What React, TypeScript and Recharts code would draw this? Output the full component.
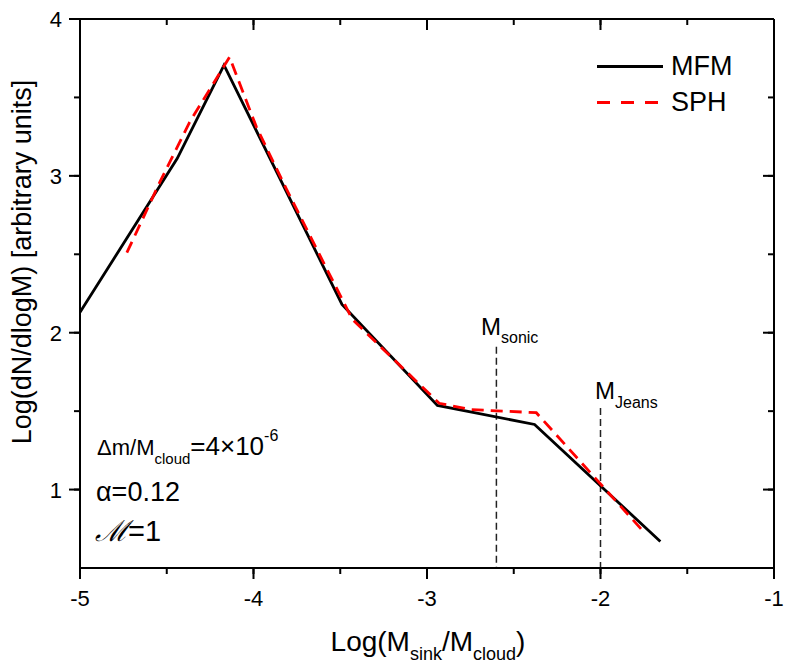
import { LineChart, Line, XAxis, YAxis } from "recharts";

const X_TICKS = [-5, -4.5, -4, -3.5, -3, -2.5, -2, -1.5, -1];
const Y_TICKS = [1, 1.5, 2, 2.5, 3, 3.5, 4];

// MFM (black solid)
const mfmX = [-5, -4.44, -4.17, -3.49, -2.94, -2.38, -1.655];
const mfmY = [2.13, 3.11, 3.706, 2.18, 1.537, 1.415, 0.669];

// SPH (red dashed)
const sphX = [-4.73, -4.54, -4.368, -4.138, -3.983, -3.81, -3.431, -2.93, -2.75, -2.37, -1.753];
const sphY = [2.51, 2.96, 3.343, 3.757, 3.311, 2.915, 2.086, 1.55, 1.51, 1.49, 0.733];

// vertical markers: x position, top of the dashed line
const M_SONIC_X = -2.6;
const M_SONIC_TOP = 1.91;
const M_JEANS_X = -2.0;
const M_JEANS_TOP = 1.52;
const Y_MIN = 0.5;

const mfm = mfmX.map((x, i) => ({ x, y: mfmY[i] }));
const sph = sphX.map((x, i) => ({ x, y: sphY[i] }));
const sonic = [
  { x: M_SONIC_X, y: M_SONIC_TOP },
  { x: M_SONIC_X, y: Y_MIN },
];
const jeans = [
  { x: M_JEANS_X, y: M_JEANS_TOP },
  { x: M_JEANS_X, y: Y_MIN },
];

const FONT = "'Liberation Sans', Arial, Helvetica, sans-serif";
const BASE = 0.8465; // baseline offset of Liberation Sans at line-height 1
const TICK = { stroke: "#000", strokeWidth: 2 };
const MINOR = 6; // built-in tick length; majors get extended to 11

function isMajor(v: number) {
  return Math.abs(v - Math.round(v)) < 1e-6;
}

// built-in tick lines give the short marks, these add the longer major part and labels
function BottomTick(props: any) {
  const { x, y, payload } = props;
  if (!isMajor(payload.value)) return <g />;
  return (
    <g>
      <path d={`M${x},${y - MINOR}V${y + 5}`} stroke="#000" strokeWidth={2} fill="none" />
      <text x={x} y={y + 32} textAnchor="middle" fontSize={22} fontFamily={FONT} fill="#000">
        {payload.value}
      </text>
    </g>
  );
}

function LeftTick(props: any) {
  const { x, y, payload } = props;
  if (!isMajor(payload.value)) return <g />;
  return (
    <g>
      <path d={`M${x + MINOR},${y}H${x - 5}`} stroke="#000" strokeWidth={2} fill="none" />
      <text x={x - 12} y={y + 8} textAnchor="end" fontSize={22} fontFamily={FONT} fill="#000">
        {payload.value}
      </text>
    </g>
  );
}

function TopTick(props: any) {
  const { x, y, payload } = props;
  if (!isMajor(payload.value)) return <g />;
  return <path d={`M${x},${y - MINOR}V${y + 5}`} stroke="#000" strokeWidth={2} fill="none" />;
}

function RightTick(props: any) {
  const { x, y, payload } = props;
  if (!isMajor(payload.value)) return <g />;
  return <path d={`M${x + MINOR},${y}H${x - 5}`} stroke="#000" strokeWidth={2} fill="none" />;
}

// html text placed by its baseline
function Txt({ x, y, size, center, children }: any) {
  return (
    <div
      style={{
        position: "absolute",
        left: x,
        top: y - BASE * size,
        fontSize: size,
        lineHeight: 1,
        fontFamily: FONT,
        whiteSpace: "nowrap",
        color: "#000",
        transform: center ? "translateX(-50%)" : undefined,
      }}
    >
      {children}
    </div>
  );
}

function Sub({ size, dy, children }: any) {
  return <span style={{ fontSize: size, position: "relative", top: dy }}>{children}</span>;
}

export default function App() {
  return (
    <div style={{ position: "absolute", left: 0, top: 0, width: 789, height: 667, background: "#fff" }}>
      <LineChart width={789} height={667} margin={{ top: 19, right: 15, bottom: 0, left: 0 }}>
        <XAxis xAxisId="bottom" type="number" dataKey="x" domain={[-5, -1]} ticks={X_TICKS} interval={0} height={99}
          tickSize={MINOR} tickMargin={0} tickLine={TICK} axisLine={{ stroke: "#000", strokeWidth: 2 }} tick={<BottomTick />} />
        <XAxis xAxisId="top" orientation="top" mirror type="number" dataKey="x" domain={[-5, -1]} ticks={X_TICKS} interval={0}
          height={1} tickSize={MINOR} tickMargin={0} tickLine={TICK} axisLine={{ stroke: "#000", strokeWidth: 2 }} tick={<TopTick />} />
        <YAxis yAxisId="left" type="number" domain={[0.5, 4]} ticks={Y_TICKS} interval={0} width={80}
          tickSize={MINOR} tickMargin={0} tickLine={TICK} axisLine={{ stroke: "#000", strokeWidth: 2 }} tick={<LeftTick />} />
        <YAxis yAxisId="right" orientation="right" mirror type="number" domain={[0.5, 4]} ticks={Y_TICKS} interval={0}
          width={1} tickSize={MINOR} tickMargin={0} tickLine={TICK} axisLine={{ stroke: "#000", strokeWidth: 2 }} tick={<RightTick />} />
        <Line xAxisId="bottom" yAxisId="left" data={sonic} dataKey="y" type="linear" stroke="#222" strokeWidth={1.5}
          strokeDasharray="7 4" dot={false} activeDot={false} isAnimationActive={false} />
        <Line xAxisId="bottom" yAxisId="left" data={jeans} dataKey="y" type="linear" stroke="#222" strokeWidth={1.5}
          strokeDasharray="7 4" dot={false} activeDot={false} isAnimationActive={false} />
        <Line xAxisId="bottom" yAxisId="left" data={mfm} dataKey="y" type="linear" stroke="#000" strokeWidth={2.8}
          strokeLinejoin="miter" dot={false} activeDot={false} isAnimationActive={false} />
        {/* same domains as bottom/left, bound to top/right so those axes get ticks */}
        <Line xAxisId="top" yAxisId="right" data={sph} dataKey="y" type="linear" stroke="#ff0000" strokeWidth={2.8}
          strokeDasharray="12 7" strokeLinejoin="miter" dot={false} activeDot={false} isAnimationActive={false} />
      </LineChart>

      {/* legend */}
      <div style={{ position: "absolute", left: 597, top: 65, width: 66, height: 3, background: "#000" }} />
      <Txt x={671} y={76} size={27}>MFM</Txt>
      <div
        style={{
          position: "absolute",
          left: 597,
          top: 101,
          width: 66,
          height: 3,
          background: "repeating-linear-gradient(90deg, #ff0000 0px, #ff0000 13px, #ffffff 13px, #ffffff 24px)",
        }}
      />
      <Txt x={671} y={112} size={27}>SPH</Txt>

      {/* marker labels */}
      <Txt x={481} y={335} size={24}>
        M<Sub size={16} dy={8}>sonic</Sub>
      </Txt>
      <Txt x={595} y={399} size={24}>
        M<Sub size={16} dy={9}>Jeans</Sub>
      </Txt>

      {/* annotation */}
      <Txt x={97} y={455} size={26}>
        <span style={{ fontSize: 22 }}>Δm/M</span>
        <Sub size={15} dy={9}>cloud</Sub>=4×10<Sub size={16} dy={-14}>-6</Sub>
      </Txt>
      <Txt x={96} y={502} size={27}>α=0.12</Txt>
      <Txt x={95} y={542} size={29}>
        <span style={{ fontFamily: "'DejaVu Serif', serif", fontStyle: "italic" }}>ℳ</span>=1
      </Txt>

      {/* axis titles */}
      <Txt x={428} y={652} size={28} center>
        Log(M<Sub size={18} dy={9}>sink</Sub>/M<Sub size={18} dy={9}>cloud</Sub>)
      </Txt>
      <div
        style={{
          position: "absolute",
          left: 22,
          top: 262,
          fontSize: 27,
          lineHeight: 1,
          fontFamily: FONT,
          whiteSpace: "nowrap",
          transform: "translate(-50%, -50%) rotate(-90deg)",
        }}
      >
        Log(dN/dlogM) [arbitrary units]
      </div>
    </div>
  );
}
